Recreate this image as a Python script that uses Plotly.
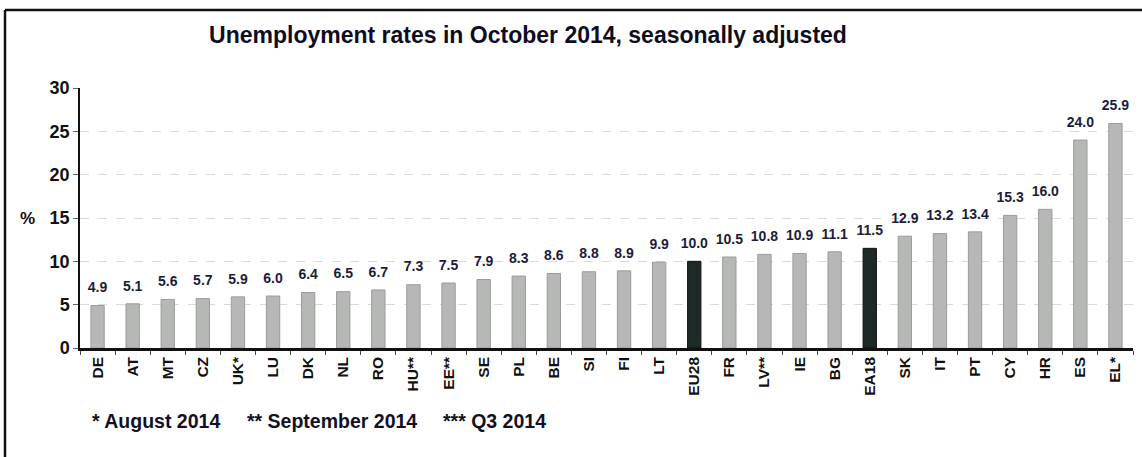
import plotly.graph_objects as go

countries = ["DE", "AT", "MT", "CZ", "UK*", "LU", "DK", "NL", "RO", "HU**", "EE**", "SE",
             "PL", "BE", "SI", "FI", "LT", "EU28", "FR", "LV**", "IE", "BG", "EA18", "SK",
             "IT", "PT", "CY", "HR", "ES", "EL*"]
rates = [4.9, 5.1, 5.6, 5.7, 5.9, 6.0, 6.4, 6.5, 6.7, 7.3, 7.5, 7.9,
         8.3, 8.6, 8.8, 8.9, 9.9, 10.0, 10.5, 10.8, 10.9, 11.1, 11.5, 12.9,
         13.2, 13.4, 15.3, 16.0, 24.0, 25.9]
aggregates = ["EU28", "EA18"]
y_ticks = [0, 5, 10, 15, 20, 25, 30]
title = "Unemployment rates in October 2014, seasonally adjusted"
footnotes = ["* August 2014", "** September 2014", "*** Q3 2014"]

colors = ["#1e2a28" if c in aggregates else "#b6b8b6" for c in countries]
line_colors = ["#111111" if c in aggregates else "#9a9c9a" for c in countries]

W, H = 1142, 457
L, R, T, B = 80, 9, 88, 109
pw = W - L - R
ph = H - T - B
FONT = "Liberation Sans, Arial, sans-serif"

def px_to_paper_x(px):
    return (px - L) / pw

def px_to_paper_y(py):
    return (H - B - py) / ph

fig = go.Figure()
fig.add_trace(go.Bar(
    x=countries, y=rates,
    marker=dict(color=colors, line=dict(color=line_colors, width=1)),
    width=0.38,
    hoverinfo="x+y",
))
fig.add_trace(go.Scatter(
    x=countries, y=rates,
    mode="markers+text",
    marker=dict(size=14, opacity=0),
    text=[f"<b>{v:.1f}</b>" for v in rates],
    textposition="top center",
    textfont=dict(family=FONT, size=14, color="#1c1c3a"),
    cliponaxis=False,
    hoverinfo="skip",
))

annotations = [
    dict(text="<b>%</b>", x=px_to_paper_x(27), y=15, xref="paper", yref="y",
         showarrow=False, font=dict(size=17, color="#111111", family=FONT), xanchor="center"),
]
for txt, px in zip(footnotes, [90, 245, 441]):
    annotations.append(dict(text="<b>" + txt + "</b>", x=px_to_paper_x(px), y=px_to_paper_y(421),
                            xref="paper", yref="paper", showarrow=False, xanchor="left",
                            yanchor="middle", font=dict(size=19.5, color="#111122", family=FONT)))

fig.update_layout(
    width=W, height=H,
    margin=dict(l=L, r=R, t=T, b=B, autoexpand=False),
    paper_bgcolor="white", plot_bgcolor="white",
    showlegend=False,
    font=dict(family=FONT, color="#111111"),
    title=dict(text="<b>" + title + "</b>", x=528 / W, xanchor="center",
               y=1 - 35 / H, yanchor="middle", xref="container", yref="container",
               font=dict(size=23, color="#0d0d1f", family=FONT)),
    xaxis=dict(
        type="category",
        range=[-0.5, len(countries) - 0.5],
        tickangle=-90,
        tickfont=dict(size=15.5, color="#111111", family=FONT),
        showline=True, linecolor="#111111", linewidth=2.5,
        ticks="outside", ticklen=4, tickcolor="#444444", tickson="boundaries",
        showgrid=False,
        tickprefix="<b>", ticksuffix="</b>",
    ),
    yaxis=dict(
        range=[0, 30],
        tickvals=y_ticks,
        ticktext=[f"<b>{v}</b>" for v in y_ticks],
        tickfont=dict(size=18, color="#111111", family=FONT),
        showline=True, linecolor="#111111", linewidth=1.5,
        ticks="outside", ticklen=5, tickcolor="#666666",
        showgrid=True, gridcolor="#dadada", griddash="dash", gridwidth=1,
        zeroline=False,
    ),
    annotations=annotations,
    shapes=[
        dict(type="line", xref="paper", yref="paper",
             x0=px_to_paper_x(5), x1=px_to_paper_x(W), y0=px_to_paper_y(10), y1=px_to_paper_y(10),
             line=dict(color="#111111", width=2.5)),
        dict(type="line", xref="paper", yref="paper",
             x0=px_to_paper_x(5), x1=px_to_paper_x(5), y0=px_to_paper_y(10), y1=px_to_paper_y(H),
             line=dict(color="#111111", width=2.5)),
    ],
)

fig.write_html("out.html", config={"displayModeBar": False},
               post_script="document.body.style.margin='0';document.body.style.overflow='hidden';")
